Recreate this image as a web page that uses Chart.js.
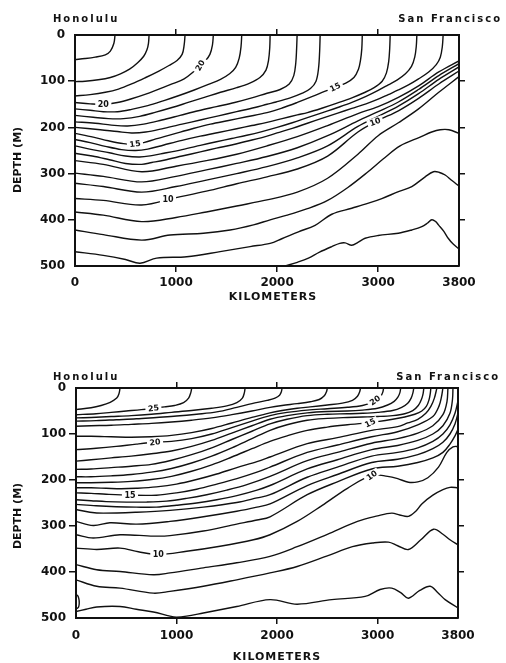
<!DOCTYPE html>
<html>
<head>
<meta charset="utf-8">
<script src="https://cdn.jsdelivr.net/npm/chart.js@4/dist/chart.umd.min.js"></script>
<style>
  html, body { margin: 0; padding: 0; background: #fff; }
  #wrap { position: relative; width: 506px; height: 663px; }
  canvas { position: absolute; left: 0; }
</style>
</head>
<body>
<div id="wrap">
  <canvas id="upper" width="506" height="331" style="top:0"></canvas>
  <canvas id="lower" width="506" height="332" style="top:331px"></canvas>
</div>
<script>
// axis ticks
const kmTicks = [0, 1000, 2000, 3000, 3800];
const depthTicks = [0, 100, 200, 300, 400, 500];

// upper section, isotherms as [km, depth m]
const upperLine01 = [[396,0],[385,18],[350,35],[300,43],[200,48],[100,51],[0,53]];
const upperLine02 = [[733,0],[727,18],[712,32],[680,46],[620,60],[540,74],[450,84],[350,92],[230,97],[100,100],[0,101]];
const upperLine03 = [[1089,0],[1080,22],[1060,42],[1010,55],[930,66],[830,78],[700,92],[560,106],[430,117],[300,124],[150,129],[0,132]];
const upperLine04 = [[1369,0],[1360,22],[1335,42],[1290,56],[1238,66],[1170,80],[1080,95],[960,106],[830,117],[700,128],[560,138],[420,146],[280,150],[150,149],[0,146]];
const upperLine05 = [[1650,0],[1643,25],[1625,50],[1590,70],[1530,84],[1440,96],[1320,107],[1180,119],[1030,131],[880,142],[720,153],[560,161],[420,166],[280,166],[150,163],[0,160]];
const upperLine06 = [[1931,0],[1927,28],[1915,55],[1890,76],[1830,92],[1730,104],[1600,114],[1440,124],[1280,135],[1120,146],[960,157],[800,167],[640,176],[480,181],[330,181],[180,178],[0,174]];
const upperLine07 = [[2198,0],[2193,30],[2185,60],[2165,88],[2120,106],[2030,118],[1900,126],[1750,136],[1580,146],[1400,155],[1220,164],[1040,174],[860,184],[680,193],[520,197],[360,195],[200,191],[0,188]];
const upperLine08 = [[2426,0],[2421,35],[2410,72],[2385,100],[2330,116],[2250,126],[2130,136],[1990,145],[1900,150],[1780,157],[1600,166],[1420,175],[1240,184],[1060,193],[880,202],[700,210],[560,212],[420,209],[250,205],[0,200]];
const upperLine09 = [[2843,0],[2838,30],[2825,55],[2805,74],[2760,92],[2680,104],[2574,113],[2470,122],[2350,133],[2200,146],[2050,158],[1900,168],[1700,177],[1520,185],[1340,193],[1160,203],[980,214],[800,225],[680,233],[594,236],[480,235],[330,229],[180,221],[0,213]];
const upperLine10 = [[3119,0],[3114,30],[3104,58],[3082,82],[3040,100],[2960,114],[2860,125],[2740,136],[2600,147],[2450,158],[2300,168],[2200,173],[2050,181],[1900,189],[1750,196],[1600,203],[1420,211],[1240,219],[1060,228],[880,238],[720,247],[600,250],[460,248],[300,241],[150,233],[0,226]];
const upperLine11 = [[3383,0],[3377,25],[3362,48],[3330,68],[3270,84],[3190,97],[3100,108],[3000,120],[2880,133],[2740,146],[2600,157],[2450,168],[2300,179],[2150,190],[2000,200],[1850,209],[1700,217],[1550,224],[1400,231],[1240,239],[1060,248],[880,256],[760,261],[640,264],[500,262],[340,255],[170,248],[0,240]];
const upperLine12 = [[3643,0],[3635,25],[3615,48],[3575,64],[3500,80],[3400,95],[3300,108],[3200,119],[3100,129],[3000,139],[2880,149],[2740,159],[2600,169],[2450,180],[2300,191],[2150,202],[2000,212],[1850,222],[1700,230],[1550,238],[1400,245],[1240,253],[1060,262],[880,271],[760,276],[660,280],[500,278],[340,270],[170,262],[0,256]];
const upperLine13 = [[0,272],[280,280],[660,296],[1000,284],[1300,272],[1600,258],[1900,240],[2200,220],[2500,196],[2800,170],[3000,155],[3200,135],[3400,110],[3600,80],[3800,56]];
const upperLine14 = [[0,299],[280,306],[660,318],[1000,306],[1300,292],[1600,278],[1900,263],[2200,244],[2500,218],[2800,186],[3000,166],[3200,145],[3400,118],[3600,88],[3800,62]];
const upperLine15 = [[0,321],[280,328],[660,340],[1000,328],[1300,314],[1600,300],[1900,285],[2200,266],[2500,240],[2800,198],[3000,176],[3200,154],[3400,127],[3600,96],[3800,69]];
const upperLine16 = [[0,354],[280,358],[660,368],[1000,352],[1300,338],[1600,322],[1900,307],[2200,290],[2500,262],[2800,210],[3000,185],[3200,164],[3400,137],[3600,106],[3800,78]];
const upperLine17 = [[0,383],[280,390],[660,404],[1000,395],[1300,383],[1600,370],[1900,357],[2200,340],[2500,310],[2800,258],[3000,218],[3200,190],[3400,160],[3600,124],[3800,90]];
const upperLine18 = [[0,422],[280,432],[660,444],[941,433],[1271,429],[1535,422],[1766,411],[1931,400],[2100,390],[2300,376],[2500,358],[2700,330],[2900,296],[3052,268],[3217,240],[3415,221],[3530,210],[3614,205],[3700,205],[3800,213]];
const upperLine19 = [[0,469],[280,477],[500,486],[644,494],[808,483],[1106,480],[1436,469],[1733,458],[1931,451],[2046,441],[2211,426],[2376,412],[2541,388],[2739,375],[2904,364],[3036,354],[3201,339],[3333,328],[3465,307],[3547,296],[3600,297],[3663,303],[3730,315],[3800,327]];
const upperLine20 = [[2080,500],[2200,492],[2310,483],[2420,470],[2541,458],[2620,451],[2673,450],[2739,455],[2800,449],[2871,440],[3000,434],[3200,429],[3333,422],[3432,415],[3490,407],[3531,400],[3570,404],[3597,411],[3650,425],[3693,440],[3740,452],[3800,463]];

// lower section
const lowerLine01 = [[438,0],[428,12],[405,22],[340,31],[250,38],[150,43],[0,47]];
const lowerLine02 = [[1151,0],[1142,10],[1120,22],[1070,32],[980,38],[880,41],[770,44],[650,47],[500,50],[350,53],[200,56],[0,58]];
const lowerLine03 = [[1682,0],[1675,10],[1655,22],[1600,32],[1500,39],[1350,44],[1150,49],[950,53],[750,57],[550,60],[350,62],[150,64],[0,65]];
const lowerLine04 = [[2050,0],[2043,8],[2025,16],[1980,22],[1900,27],[1750,34],[1600,42],[1400,52],[1200,57],[1000,61],[800,64],[600,67],[400,69],[200,71],[0,72]];
const lowerLine05 = [[2500,0],[2492,8],[2470,17],[2420,25],[2330,30],[2200,34],[2050,38],[1930,42],[1750,50],[1550,58],[1350,65],[1150,70],[950,74],[750,77],[550,79],[350,81],[150,82],[0,83]];
const lowerLine06 = [[2830,0],[2822,8],[2800,18],[2750,27],[2650,33],[2500,37],[2330,41],[2200,44],[2050,49],[1930,54],[1750,64],[1550,76],[1350,88],[1150,97],[950,103],[750,106],[550,107],[350,106],[150,105],[0,105]];
const lowerLine07 = [[3060,0],[3052,9],[3032,18],[2995,26],[2940,32],[2850,38],[2700,42],[2500,45],[2300,48],[2100,53],[1930,60],[1750,72],[1550,86],[1350,100],[1150,110],[950,116],[786,118],[600,122],[400,127],[200,131],[0,134]];
const lowerLine08 = [[3230,0],[3222,10],[3202,20],[3165,29],[3100,37],[3000,44],[2850,48],[2700,50],[2500,51],[2300,54],[2100,60],[1930,68],[1750,82],[1550,98],[1350,114],[1150,127],[950,137],[750,143],[550,148],[350,152],[150,156],[0,159]];
const lowerLine09 = [[3360,0],[3352,10],[3334,22],[3300,33],[3240,42],[3150,49],[3000,53],[2850,55],[2700,56],[2500,57],[2300,60],[2100,68],[1930,78],[1750,94],[1550,112],[1350,130],[1150,145],[950,157],[750,166],[550,170],[350,173],[150,176],[0,177]];
const lowerLine10 = [[3460,0],[3453,12],[3436,25],[3405,38],[3350,49],[3270,56],[3150,60],[3000,62],[2850,63],[2700,64],[2500,66],[2300,70],[2100,80],[1930,92],[1750,110],[1550,130],[1350,148],[1150,163],[950,175],[750,183],[550,188],[350,191],[150,193],[0,193]];
const lowerLine11 = [[3530,0],[3524,12],[3510,27],[3485,40],[3440,50],[3370,57],[3270,63],[3150,68],[3000,73],[2850,77],[2700,80],[2500,85],[2300,92],[2100,104],[1930,116],[1750,132],[1550,150],[1350,167],[1150,181],[950,192],[750,199],[550,203],[350,205],[150,206],[0,206]];
const lowerLine12 = [[3590,0],[3565,22],[3530,40],[3480,55],[3400,68],[3300,76],[3200,84],[2942,92],[2600,108],[2300,121],[1930,150],[1800,160],[1600,173],[1400,187],[1200,199],[1000,209],[800,215],[600,218],[450,219],[300,218],[150,217],[0,217]];
const lowerLine13 = [[3650,0],[3635,20],[3610,40],[3550,62],[3400,80],[3200,95],[2942,106],[2600,124],[2300,140],[1930,172],[1800,183],[1600,197],[1400,209],[1200,220],[1000,228],[800,233],[537,233],[300,231],[150,229],[0,228]];
const lowerLine14 = [[3700,0],[3690,30],[3650,58],[3550,82],[3400,98],[3200,110],[2942,120],[2600,140],[2300,158],[1930,192],[1700,210],[1500,222],[1300,232],[1100,240],[900,246],[700,248],[500,248],[300,247],[150,245],[0,243]];
const lowerLine15 = [[3750,0],[3745,25],[3720,55],[3650,82],[3550,100],[3400,114],[3200,125],[2942,134],[2600,156],[2300,176],[1930,212],[1800,222],[1600,234],[1400,243],[1200,250],[1000,255],[800,259],[600,259],[400,258],[200,256],[0,253]];
const lowerLine16 = [[3800,28],[3770,55],[3720,80],[3650,100],[3550,116],[3400,130],[3200,140],[2942,148],[2600,172],[2300,194],[1930,232],[1800,239],[1599,249],[1267,259],[935,266],[604,270],[272,272],[139,270],[0,264]];
const lowerLine17 = [[3800,55],[3770,78],[3720,100],[3650,118],[3550,132],[3400,145],[3200,155],[2942,162],[2600,188],[2300,212],[1930,252],[1800,259],[1599,268],[1267,280],[935,290],[604,296],[338,293],[172,299],[0,290]];
const lowerLine18 = [[3800,90],[3770,104],[3720,122],[3650,140],[3550,152],[3400,162],[3200,170],[2942,176],[2600,204],[2300,232],[1930,280],[1800,287],[1599,296],[1267,311],[935,321],[770,322],[438,319],[172,326],[0,319]];
const lowerLine19 = [[3800,127],[3750,128],[3689,140],[3606,172],[3500,195],[3400,204],[3307,205],[3200,197],[3100,192],[2942,190],[2700,218],[2450,255],[2200,290],[1930,319],[1765,330],[1433,344],[1101,355],[819,362],[620,356],[438,348],[206,351],[0,348]];
const lowerLine20 = [[0,384],[206,395],[438,399],[770,406],[935,402],[1267,391],[1599,380],[1930,366],[2200,345],[2500,318],[2800,290],[3000,278],[3141,272],[3220,276],[3307,279],[3380,268],[3440,252],[3550,233],[3650,221],[3720,216],[3800,217]];
const lowerLine21 = [[0,417],[206,431],[438,435],[770,446],[935,442],[1267,431],[1599,417],[1930,402],[2200,388],[2500,365],[2750,345],[2950,337],[3108,335],[3200,343],[3307,351],[3430,330],[3556,307],[3650,318],[3720,330],[3800,341]];
const lowerLine22 = [[0,486],[100,481],[206,476],[438,475],[600,481],[770,487],[935,496],[1000,498],[1100,496],[1267,489],[1599,475],[1930,460],[2200,470],[2544,460],[2876,453],[3025,438],[3141,435],[3230,445],[3307,457],[3420,440],[3523,431],[3600,445],[3672,460],[3800,478]];
const lowerLine23 = [[0,449],[15,451],[28,458],[32,468],[26,476],[12,479],[0,478]];

// contour labels
const upperLabelText = ['20', '20', '15', '15', '10', '10'];
const upperLabelKm = [1238, 280, 594, 2574, 920, 2970];
const upperLabelDepth = [66, 150, 236, 113, 356, 188];
const lowerLabelText = ['25', '20', '15', '10', '20', '15', '10'];
const lowerLabelKm = [770, 786, 537, 819, 2975, 2926, 2942];
const lowerLabelDepth = [44, 118, 233, 362, 27, 76, 190];

const upperLines = [upperLine01, upperLine02, upperLine03, upperLine04, upperLine05, upperLine06, upperLine07,
  upperLine08, upperLine09, upperLine10, upperLine11, upperLine12, upperLine13, upperLine14, upperLine15,
  upperLine16, upperLine17, upperLine18, upperLine19, upperLine20];
const lowerLines = [lowerLine01, lowerLine02, lowerLine03, lowerLine04, lowerLine05, lowerLine06, lowerLine07,
  lowerLine08, lowerLine09, lowerLine10, lowerLine11, lowerLine12, lowerLine13, lowerLine14, lowerLine15,
  lowerLine16, lowerLine17, lowerLine18, lowerLine19, lowerLine20, lowerLine21, lowerLine22, lowerLine23];

const INK = '#111';
const tickFont = { family: 'DejaVu Sans', size: 12, weight: 'bold' };

function labelPlugin(text, km, depth, tilt) {
  return {
    id: 'contourLabels',
    afterDatasetsDraw(chart) {
      const { ctx, chartArea: a, scales } = chart;
      ctx.save();
      ctx.beginPath();
      ctx.rect(a.left, a.top, a.width, a.height);
      ctx.clip();
      ctx.font = 'bold 8px "DejaVu Sans"';
      ctx.textAlign = 'center';
      ctx.textBaseline = 'middle';
      text.forEach((t, i) => {
        ctx.save();
        ctx.translate(scales.x.getPixelForValue(km[i]), scales.y.getPixelForValue(depth[i]));
        ctx.rotate(tilt[i] * Math.PI / 180);
        const w = ctx.measureText(t).width + 5;
        ctx.fillStyle = '#fff';
        ctx.fillRect(-w / 2, -4, w, 8);
        ctx.fillStyle = INK;
        ctx.fillText(t, 0, 0.5);
        ctx.restore();
      });
      ctx.restore();
    }
  };
}

function textPlugin(items) {
  return {
    id: 'pageText',
    afterDraw(chart) {
      const ctx = chart.ctx;
      items.forEach(it => {
        ctx.save();
        ctx.font = it.font;
        ctx.fillStyle = INK;
        ctx.letterSpacing = it.spacing || '0px';
        ctx.textAlign = it.align;
        ctx.textBaseline = it.base;
        ctx.translate(it.x, it.y);
        if (it.rotate) ctx.rotate(it.rotate * Math.PI / 180);
        ctx.fillText(it.text, 0, 0);
        ctx.restore();
      });
    }
  };
}

const setTicks = vals => axis => { axis.ticks = vals.map(v => ({ value: v })); };
const hideEnds = (lo, hi) => c => (c.tick && (c.tick.value === lo || c.tick.value === hi)) ? 'rgba(0,0,0,0)' : INK;

function sectionChart(canvasId, lines, labels, box, items) {
  const ctx = document.getElementById(canvasId).getContext('2d');
  const datasets = lines.map(pts => ({
    data: pts.map(([x, y]) => ({ x, y })),
    showLine: true,
    borderColor: INK,
    borderWidth: 1.4,
    pointRadius: 0,
    tension: 0.35,
    fill: false
  }));
  const grid = (lo, hi, len) => ({ drawOnChartArea: false, tickLength: len, lineWidth: 1.5, color: hideEnds(lo, hi) });
  const border = { color: INK, width: 2 };
  return new Chart(ctx, {
    type: 'scatter',
    data: { datasets },
    options: {
      responsive: false,
      animation: false,
      events: [],
      layout: { padding: box.padding },
      plugins: { legend: { display: false }, tooltip: { enabled: false } },
      scales: {
        x: {
          type: 'linear', position: 'bottom', min: 0, max: 3800,
          afterBuildTicks: setTicks(kmTicks),
          afterFit: a => { a.height = 30; },
          ticks: { color: INK, font: tickFont, padding: box.xPad, maxRotation: 0, autoSkip: false, callback: v => String(v) },
          grid: grid(0, 3800, 6), border
        },
        xTop: {
          type: 'linear', position: 'top', min: 0, max: 3800,
          afterBuildTicks: setTicks(kmTicks),
          afterFit: a => { a.height = 10; },
          ticks: { display: false },
          grid: grid(0, 3800, 6), border
        },
        y: {
          type: 'linear', position: 'left', min: 0, max: 500, reverse: true,
          afterBuildTicks: setTicks(depthTicks),
          afterFit: a => { a.width = box.left; },
          ticks: { color: INK, font: tickFont, padding: 3, callback: v => String(v) },
          grid: grid(0, 500, 7), border
        },
        yRight: {
          type: 'linear', position: 'right', min: 0, max: 500, reverse: true,
          afterBuildTicks: setTicks(depthTicks),
          afterFit: a => { a.width = 10; },
          ticks: { display: false },
          grid: grid(0, 500, 6), border
        }
      }
    },
    plugins: [labelPlugin(labels.text, labels.km, labels.depth, labels.tilt), textPlugin(items)]
  });
}

const placeFont = 'bold 10px "DejaVu Sans"';
const titleFont = 'bold 11px "DejaVu Sans"';

sectionChart('upper', upperLines,
  { text: upperLabelText, km: upperLabelKm, depth: upperLabelDepth, tilt: [-62, 0, -8, -25, 0, -20] },
  { padding: { left: 0, right: 37, top: 25, bottom: 35 }, left: 75, xPad: 4 },
  [
    { text: 'Honolulu', x: 53, y: 22, align: 'left', base: 'alphabetic', font: placeFont, spacing: '2px' },
    { text: 'San Francisco', x: 502, y: 22, align: 'right', base: 'alphabetic', font: placeFont, spacing: '2px' },
    { text: 'KILOMETERS', x: 273, y: 297, align: 'center', base: 'middle', font: titleFont, spacing: '1px' },
    { text: 'DEPTH (M)', x: 18, y: 160, align: 'center', base: 'middle', font: titleFont, rotate: -90 }
  ]);

sectionChart('lower', lowerLines,
  { text: lowerLabelText, km: lowerLabelKm, depth: lowerLabelDepth, tilt: [-6, -6, 0, 0, -35, -25, -35] },
  { padding: { left: 0, right: 38, top: 47, bottom: 15 }, left: 76, xPad: 5 },
  [
    { text: 'Honolulu', x: 53, y: 49, align: 'left', base: 'alphabetic', font: placeFont, spacing: '2px' },
    { text: 'San Francisco', x: 500, y: 49, align: 'right', base: 'alphabetic', font: placeFont, spacing: '2px' },
    { text: 'KILOMETERS', x: 277, y: 326, align: 'center', base: 'middle', font: titleFont, spacing: '1px' },
    { text: 'DEPTH (M)', x: 18, y: 185, align: 'center', base: 'middle', font: titleFont, rotate: -90 }
  ]);
</script>
</body>
</html>
